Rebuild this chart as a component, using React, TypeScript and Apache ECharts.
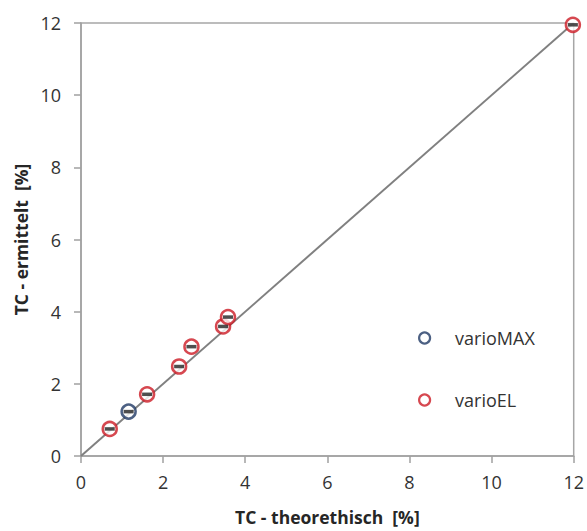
import React, { useEffect, useRef } from "react";
import * as echarts from "echarts";

const xTicks = [0, 2, 4, 6, 8, 10, 12];
const varioMAX: [number, number][] = [[1.16, 1.23]];
const varioEL: [number, number][] = [
  [0.7, 0.75],
  [1.61, 1.71],
  [2.39, 2.48],
  [2.69, 3.03],
  [3.46, 3.59],
  [3.58, 3.85],
  [11.98, 11.95],
];
const identityLine: [number, number][] = [[0, 0], [12, 12]];

const RED = "#cc1a24";
const BLUE = "#1f3864";
const FONT = "'Open Sans', 'Liberation Sans', sans-serif";

export default function App() {
  const ref = useRef<HTMLDivElement>(null);
  useEffect(() => {
    const chart = echarts.init(ref.current!, undefined, { renderer: "svg" });
    const bars = [...varioMAX, ...varioEL];
    chart.setOption({
      animation: false,
      backgroundColor: "#ffffff",
      grid: { left: 81, right: 11, top: 23, bottom: 72, show: true, borderColor: "#a6a6a6", borderWidth: 1.5 },
      xAxis: {
        type: "value",
        min: 0,
        max: 12,
        interval: 2,
        name: "TC - theorethisch  [%]",
        nameLocation: "middle",
        nameGap: 52,
        nameTextStyle: { fontFamily: FONT, fontSize: 17.5, fontWeight: "bold", color: "#262626" },
        axisLine: { show: true, lineStyle: { color: "#a0a0a0", width: 1.5 } },
        axisTick: { show: true, length: 7, lineStyle: { color: "#a0a0a0", width: 1.5 } },
        axisLabel: { margin: 17, fontFamily: FONT, fontSize: 18, color: "#333" },
        splitLine: { show: false },
      },
      yAxis: {
        type: "value",
        min: 0,
        max: 12,
        interval: 2,
        name: "TC - ermittelt  [%]",
        nameLocation: "middle",
        nameGap: 47,
        nameTextStyle: { fontFamily: FONT, fontSize: 17.5, fontWeight: "bold", color: "#262626" },
        axisLine: { show: true, lineStyle: { color: "#a0a0a0", width: 1.5 } },
        axisTick: { show: true, length: 7, lineStyle: { color: "#a0a0a0", width: 1.5 } },
        axisLabel: { margin: 20, fontFamily: FONT, fontSize: 18, color: "#333" },
        splitLine: { show: false },
      },
      legend: {
        orient: "vertical",
        left: 413,
        top: 324,
        itemGap: 44,
        itemWidth: 11,
        itemHeight: 11,
        textStyle: { fontFamily: FONT, fontSize: 18, color: "#333", padding: [0, 0, 0, 20] },
        data: [
          { name: "varioMAX", icon: "circle", itemStyle: { color: "#fff", borderColor: BLUE, borderWidth: 2.2 } },
          { name: "varioEL", icon: "circle", itemStyle: { color: "#fff", borderColor: RED, borderWidth: 2.2 } },
        ],
      },
      series: [
        {
          type: "line",
          data: identityLine,
          symbol: "none",
          silent: true,
          lineStyle: { color: "#808080", width: 2 },
          z: 1,
        },
        {
          name: "varioMAX",
          type: "scatter",
          data: varioMAX,
          symbol: "circle",
          symbolSize: 14,
          itemStyle: { color: "#fff", borderColor: BLUE, borderWidth: 2.5 },
          z: 2,
        },
        {
          name: "varioEL",
          type: "scatter",
          data: varioEL,
          symbol: "circle",
          symbolSize: 14,
          itemStyle: { color: "#fff", borderColor: RED, borderWidth: 2.5 },
          z: 2,
        },
        {
          name: "errbar",
          type: "scatter",
          data: bars,
          symbol: "rect",
          symbolSize: [10, 3.5],
          silent: true,
          itemStyle: { color: "#222" },
          z: 3,
        },
      ],
    });
    return () => chart.dispose();
  }, []);
  return <div ref={ref} style={{ position: "fixed", left: 0, top: 0, width: 587, height: 531 }} />;
}
